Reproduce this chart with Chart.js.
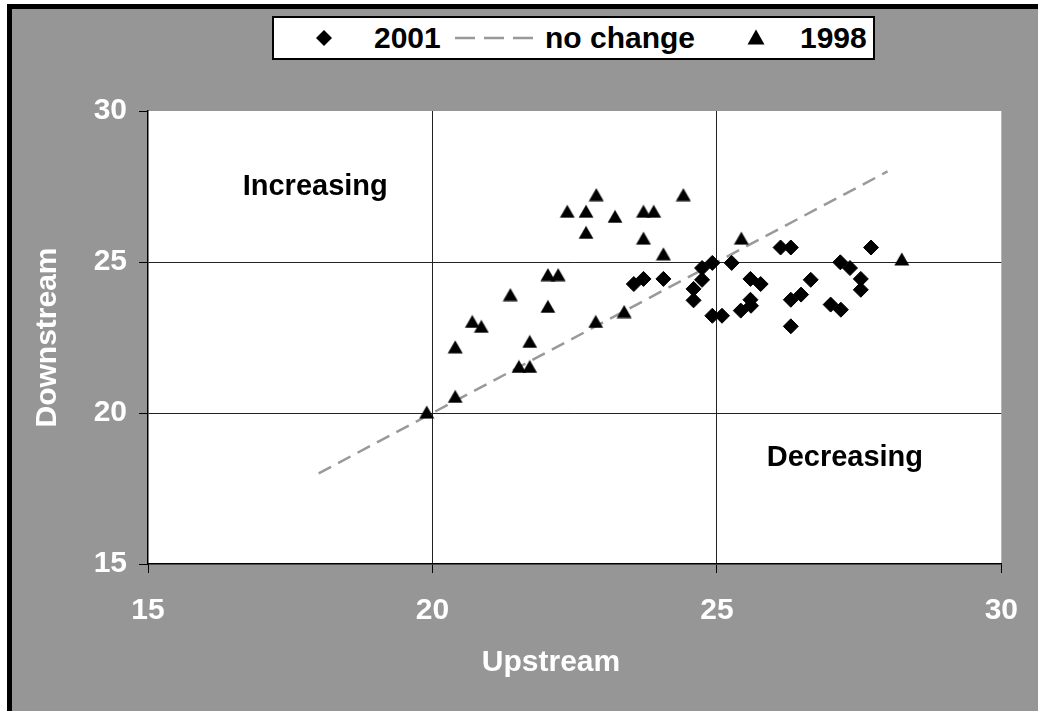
<!DOCTYPE html>
<html>
<head>
<meta charset="utf-8">
<script src="https://cdn.jsdelivr.net/npm/chart.js@4/dist/chart.umd.min.js"></script>
<style>
  html, body { margin: 0; padding: 0; background: #ffffff; }
  body { width: 1038px; height: 711px; position: relative; overflow: hidden; font-family: "Liberation Sans", Arial, sans-serif; }
  #frame { position: absolute; left: 7px; top: 4px; width: 1031px; height: 707px; box-sizing: border-box;
           border-left: 5px solid #000; border-top: 5px solid #000; background: #969696; }
  #wrap { position: absolute; left: 0; top: 0; width: 1038px; height: 711px; }
  #legend { position: absolute; left: 272px; top: 16px; width: 603px; height: 44px; box-sizing: border-box;
            background: #fff; border: 2px solid #000; font-weight: bold; font-size: 30px; color: #000; }
  #legend .item { position: absolute; top: 0; height: 40px; line-height: 40px; white-space: nowrap; }
  #legend svg { position: absolute; }
</style>
</head>
<body>
<div id="frame"></div>
<div id="wrap"><canvas id="c" width="1038" height="711"></canvas></div>
<div id="legend"></div>
<script>
// ---- data ----
const xTicks = [15, 20, 25, 30];
const yTicks = [15, 20, 25, 30];
const seriesNames = ["2001", "no change", "1998"];

const upstream2001   = [23.54, 23.71, 24.06, 24.74, 24.92, 24.74, 24.59, 24.59, 25.26, 24.92, 25.09, 25.59, 25.77, 25.59, 25.42, 25.60, 26.12, 26.30, 26.30, 26.48, 26.30, 26.65, 27.00, 27.18, 27.17, 27.34, 27.53, 27.53, 27.71];
const downstream2001 = [24.27, 24.44, 24.44, 24.80, 24.97, 24.41, 24.11, 23.73, 24.97, 23.22, 23.22, 24.44, 24.27, 23.75, 23.39, 23.55, 25.48, 25.48, 23.75, 23.92, 22.87, 24.41, 23.59, 23.42, 24.99, 24.80, 24.44, 24.08, 25.48];

const upstream1998   = [19.90, 20.40, 20.40, 20.70, 20.86, 21.52, 21.71, 21.71, 21.37, 22.03, 22.21, 22.03, 22.37, 22.70, 22.70, 22.88, 23.21, 23.71, 23.89, 23.71, 24.41, 24.06, 25.43, 28.25, 22.87, 23.37];
const downstream1998 = [20.03, 20.55, 22.19, 23.03, 22.87, 21.54, 21.54, 22.37, 23.92, 24.58, 24.58, 23.53, 26.68, 26.68, 25.98, 27.23, 26.51, 26.68, 26.68, 25.79, 27.23, 25.27, 25.79, 25.10, 23.03, 23.36];

const noChangeX = [18, 28];
const noChangeY = [18, 28];

const regionLabels = ["Increasing", "Decreasing"];
const regionLabelX = [17.94, 27.25];
const regionLabelY = [27.49, 18.52];

const xTitle = "Upstream";
const yTitle = "Downstream";

// ---- helpers ----
const zip = (xs, ys) => xs.map((x, i) => ({ x: x, y: ys[i] }));
const FONT = '"Liberation Sans", Arial, sans-serif';

// triangle marker centred on its bounding box
function makeTriangle(w, h) {
  const cv = document.createElement('canvas');
  cv.width = w; cv.height = h;
  const g = cv.getContext('2d');
  g.fillStyle = '#000';
  g.beginPath();
  g.moveTo(w / 2, 0.5); g.lineTo(w - 0.5, h - 0.5); g.lineTo(0.5, h - 0.5); g.closePath();
  g.fill();
  return cv;
}
const triMarker = makeTriangle(16, 14);

const bgPlugin = {
  id: 'plotBg',
  beforeDraw(chart) {
    const a = chart.chartArea, ctx = chart.ctx;
    ctx.save(); ctx.fillStyle = '#ffffff';
    ctx.fillRect(a.left, a.top, a.right - a.left, a.bottom - a.top);
    ctx.restore();
  }
};
const labelPlugin = {
  id: 'regionLabels',
  afterDatasetsDraw(chart) {
    const ctx = chart.ctx, xs = chart.scales.x, ys = chart.scales.y;
    ctx.save();
    ctx.font = 'bold 29px ' + FONT;
    ctx.fillStyle = '#000'; ctx.textAlign = 'center'; ctx.textBaseline = 'middle';
    regionLabels.forEach((t, i) => {
      ctx.fillText(t, xs.getPixelForValue(regionLabelX[i]), ys.getPixelForValue(regionLabelY[i]));
    });
    // x-axis title (sits left of the plot centre in the reference)
    ctx.font = 'bold 30px ' + FONT;
    ctx.fillStyle = '#fff';
    ctx.fillText(xTitle, 551, 663);
    ctx.restore();
  }
};

const gridColor = (c) => (c.tick && (c.tick.value === 15 || c.tick.value === 30)) ? 'rgba(0,0,0,0)' : '#222';

new Chart(document.getElementById('c'), {
  type: 'scatter',
  data: {
    datasets: [
      { label: seriesNames[0], data: zip(upstream2001, downstream2001), pointStyle: 'rectRot',
        pointRadius: 7.5, pointHoverRadius: 7.5, backgroundColor: '#000', borderColor: '#000', borderWidth: 1, order: 1 },
      { label: seriesNames[1], data: zip(noChangeX, noChangeY), type: 'line', showLine: true,
        borderColor: '#999999', borderWidth: 2.5, borderDash: [14, 8], pointRadius: 0, fill: false, order: 3 },
      { label: seriesNames[2], data: zip(upstream1998, downstream1998), pointStyle: triMarker,
        pointRadius: 8, backgroundColor: '#000', borderColor: '#000', order: 2 }
    ]
  },
  options: {
    responsive: false, animation: false,
    layout: { padding: { left: 0, top: 111, right: 33, bottom: 0 } },
    plugins: { legend: { display: false }, tooltip: { enabled: false }, title: { display: false } },
    scales: {
      x: {
        type: 'linear', min: 15, max: 30,
        afterBuildTicks: (s) => { s.ticks = xTicks.map(v => ({ value: v })); },
        afterFit: (s) => { s.height = 147; },
        grid: { color: gridColor, lineWidth: 1, tickLength: 9, tickColor: '#000', drawTicks: true },
        border: { display: true, color: '#000', width: 1.5 },
        ticks: { color: '#fff', padding: 20, font: { family: FONT, size: 30, weight: 'bold' }, maxRotation: 0 },
        title: { display: false, text: xTitle }
      },
      y: {
        type: 'linear', min: 15, max: 30,
        afterBuildTicks: (s) => { s.ticks = yTicks.map(v => ({ value: v })); },
        afterFit: (s) => { s.width = 148; },
        grid: { color: gridColor, lineWidth: 1, tickLength: 9, tickColor: '#000', drawTicks: true },
        border: { display: true, color: '#000', width: 1.5 },
        ticks: { color: '#fff', padding: 12, font: { family: FONT, size: 30, weight: 'bold' } },
        title: { display: true, text: yTitle, color: '#fff', font: { family: FONT, size: 30, weight: 'bold' },
                 padding: { top: 30, bottom: 0 } }
      }
    }
  },
  plugins: [bgPlugin, labelPlugin]
});

// ---- HTML legend (box border + marker glyphs) ----
const legend = document.getElementById('legend');
const legendItems = [
  { name: seriesNames[0], glyph: '<svg width="18" height="18" style="left:41px;top:11px"><polygon points="9,1 17,9 9,17 1,9" fill="#000"/></svg>', textLeft: 100 },
  { name: seriesNames[1], glyph: '<svg width="78" height="6" style="left:181px;top:17px"><line x1="0" y1="3" x2="78" y2="3" stroke="#999" stroke-width="2.5" stroke-dasharray="20 9"/></svg>', textLeft: 271 },
  { name: seriesNames[2], glyph: '<svg width="18" height="16" style="left:473px;top:11px"><polygon points="9,0.5 17.5,15.5 0.5,15.5" fill="#000"/></svg>', textLeft: 526 }
];
legend.innerHTML = legendItems.map(it => it.glyph + '<span class="item" style="left:' + it.textLeft + 'px">' + it.name + '</span>').join('');
</script>
</body>
</html>
